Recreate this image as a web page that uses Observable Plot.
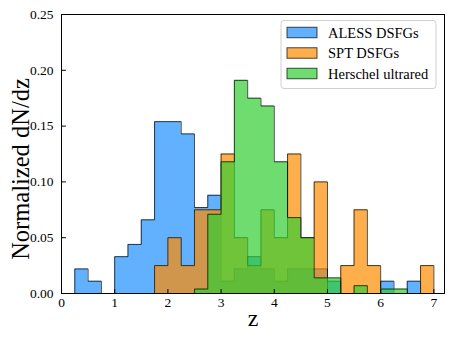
<!DOCTYPE html>
<html><head><meta charset="utf-8">
<script src="https://cdn.jsdelivr.net/npm/d3@7"></script>
<script src="https://cdn.jsdelivr.net/npm/@observablehq/plot@0.6"></script>
<style>body{margin:0;background:#fff} svg{font-family:"Liberation Serif",serif}</style>
</head><body><div id="chart"></div>
<script>
// bin edges (z)
const binEdges = [0.25,0.5,0.75,1.0,1.25,1.5,1.75,2.0,2.25,2.5,2.75,3.0,3.25,3.5,3.75,4.0,4.25,4.5,4.75,5.0,5.25,5.5,5.75,6.0,6.25,6.5,6.75,7.0];
const seriesNames = ["ALESS DSFGs", "SPT DSFGs", "Herschel ultrared"];
const alessValues = [0.022,0.011,0,0.033,0.044,0.066,0.154,0.154,0.143,0.077,0.088,0.011,0.022,0.033,0.022,0.011,0.022,0.022,0.022,0.011,0,0,0,0.011,0,0.011,0];
const sptValues = [0,0,0,0,0,0,0.025,0.050,0.025,0.075,0.075,0.125,0.050,0.025,0.075,0.050,0.125,0.050,0.100,0,0.025,0.075,0.025,0,0,0,0.025];
const herschelValues = [0,0,0,0,0,0,0,0,0,0.004,0.071,0.118,0.191,0.175,0.168,0.118,0.068,0.050,0.014,0.014,0,0.007,0,0.004,0.004,0,0];
const seriesColors = ["#1e90ff", "#ff8c00", "#32cd32"];
const xTicks = [0,1,2,3,4,5,6,7];
const yTicks = [0,0.05,0.10,0.15,0.20,0.25];
const xLabel = "z";
const yLabel = "Normalized dN/dz";

const series = [alessValues, sptValues, herschelValues].map((values, i) => ({name: seriesNames[i], color: seriesColors[i], values}));

function stepPoints(values) {
  const first = values.findIndex(v => v > 0);
  const last = values.length - 1 - [...values].reverse().findIndex(v => v > 0);
  const pts = [{x: binEdges[first], y: 0}];
  for (let i = first; i <= last; i++) pts.push({x: binEdges[i], y: values[i]});
  pts.push({x: binEdges[last + 1], y: values[last]});
  pts.push({x: binEdges[last + 1], y: 0});
  return pts;
}

const marks = [];
for (const s of series) {
  const pts = stepPoints(s.values);
  marks.push(Plot.areaY(pts, {x: "x", y: "y", curve: "step-after", fill: s.color, fillOpacity: 0.7}));
  marks.push(Plot.line(pts, {x: "x", y: "y", curve: "step-after", stroke: "#000", strokeOpacity: 0.7, strokeWidth: 1}));
}

const tickShape = {draw(context, l) { context.moveTo(0, 0); context.lineTo(0, -l); }};

const chart = Plot.plot({
  width: 452, height: 342,
  marginLeft: 61, marginRight: 8, marginTop: 14, marginBottom: 49,
  x: {domain: [0, 7.2]},
  y: {domain: [0, 0.25]},
  style: {fontFamily: "Liberation Serif, serif", fontSize: "13.5px", color: "#000", background: "#fff"},
  marks: [
    ...marks,
    Plot.frame({stroke: "#000", strokeWidth: 1}),
    Plot.vector(xTicks, {x: d => d, frameAnchor: "bottom", length: 4, rotate: 0, anchor: "start", shape: tickShape, stroke: "#000", strokeWidth: 1}),
    Plot.vector(yTicks, {y: d => d, frameAnchor: "left", length: 4, rotate: 90, anchor: "start", shape: tickShape, stroke: "#000", strokeWidth: 1}),
    Plot.axisX(xTicks, {tickSize: 0, tickPadding: 4, tickFormat: d => String(d), label: null}),
    Plot.axisY(yTicks, {tickSize: 0, tickPadding: 8, tickFormat: d3.format(".2f"), label: null}),
    Plot.text([xLabel], {frameAnchor: "bottom", dy: 32, fontSize: 24, text: d => d}),
    Plot.text([yLabel], {frameAnchor: "left", dx: -40, dy: 15, rotate: -90, fontSize: 24.5, textAnchor: "middle", text: d => d})
  ]
});
document.getElementById("chart").appendChild(chart);

// legend
const svg = d3.select(chart);
const lg = svg.append("g").attr("font-family", "Liberation Serif, serif").attr("text-anchor", "start");
lg.append("rect").attr("x", 281).attr("y", 20.5).attr("width", 155).attr("height", 68)
  .attr("rx", 3).attr("fill", "#fff").attr("fill-opacity", 0.8).attr("stroke", "#d0d0d0").attr("stroke-width", 1);
series.forEach((s, i) => {
  const cy = 32.5 + i * 20.5;
  lg.append("rect").attr("x", 287).attr("y", cy - 5.25).attr("width", 30).attr("height", 10.5)
    .attr("fill", s.color).attr("fill-opacity", 0.7).attr("stroke", "#000").attr("stroke-opacity", 0.7).attr("stroke-width", 1);
  lg.append("text").attr("x", 328).attr("y", cy).attr("dy", "0.35em").attr("text-anchor", "start").attr("font-size", 14.5).attr("fill", "#000").text(s.name);
});
</script></body></html>
